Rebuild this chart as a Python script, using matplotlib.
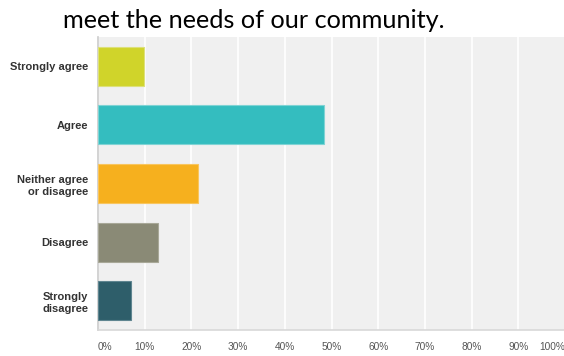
import matplotlib
import matplotlib.pyplot as plt

matplotlib.use('Agg')

# Data
categories = ['Strongly agree', 'Agree', 'Neither agree\nor disagree', 'Disagree', 'Strongly\ndisagree']
percents = [9.8, 48.5, 21.4, 12.9, 7.0]
colors = ['#d0d42a', '#34bdbf', '#f6b01e', '#8a8a76', '#2e5e6a']
edges = ['#dde07a', '#7fd3d4', '#f8c55e', '#a8a898', '#5f8590']
tick_vals = list(range(0, 101, 10))
tick_labels = [f'{v}%' for v in tick_vals]
title = 'meet the needs of our community.'

fig = plt.figure(figsize=(5.64, 3.56), dpi=100)
ax = fig.add_axes([98 / 564, 26 / 356, 467 / 564, 293 / 356])
ax.set_facecolor('#f0f0f0')

y = list(range(len(categories)))
ax.barh(y, percents, height=0.665, color=colors, edgecolor=edges, linewidth=0.8, zorder=3)

ax.set_xlim(0, 100)
ax.set_ylim(len(categories) - 0.5, -0.5)

ax.set_xticks(tick_vals)
ax.set_xticklabels(tick_labels, fontsize=7.3, color='#555555', family='Liberation Sans')
lbls = ax.get_xticklabels()
lbls[0].set_ha('left')
lbls[-1].set_ha('right')
ax.tick_params(axis='x', length=0, pad=9)
ax.grid(axis='x', color='white', linewidth=1.2, zorder=1)

ax.set_yticks(y)
ax.set_yticklabels(categories, fontsize=8, color='#333333', fontweight='bold',
                   family='Liberation Sans', linespacing=1.3)
ax.tick_params(axis='y', length=0, pad=7)

for s in ['top', 'right']:
    ax.spines[s].set_visible(False)
ax.spines['left'].set_color('#cccccc')
ax.spines['bottom'].set_color('#d8d8d8')
ax.spines['left'].set_linewidth(1.2)
ax.spines['bottom'].set_linewidth(1.2)

fig.text(63 / 564, 1 - 28 / 356, title, fontsize=18.2, family='Lato', color='black',
         ha='left', va='baseline')

fig.savefig('out.png', dpi=100)
